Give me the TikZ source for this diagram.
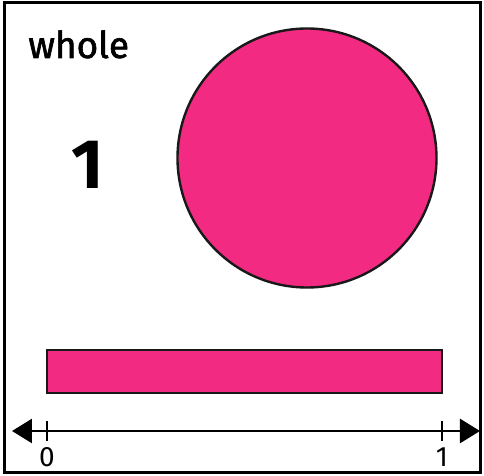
\documentclass[tikz,border=0pt]{standalone}
\usepackage{fontspec}
\setmainfont{Fira Sans}
\newfontfamily\medfont{Fira Sans}[FakeBold=1.6]
\usetikzlibrary{arrows.meta,positioning}
\definecolor{wholePink}{RGB}{242,42,130}
\tikzset{
  frameln/.style={line width=1.5pt},
  shapefill/.style={fill=wholePink, draw=black!90, line width=1.2pt, inner sep=0pt},
  numln/.style={{Triangle[length=10pt,width=12pt]}-{Triangle[length=10pt,width=12pt]}, line width=1.3pt},
  tickln/.style={line width=1pt},
  ticklbl/.style={inner sep=1pt, font=\fontsize{14}{16}\selectfont},
}
\begin{document}
\begin{tikzpicture}[x=0.5pt,y=-0.5pt]
  \useasboundingbox (0,0) rectangle (484,476);
  % outer frame
  \draw[frameln] (5,3) rectangle (481,473);
  % title and the number one
  \node[font=\fontsize{18.5}{22}\medfont, anchor=base west, inner sep=0pt] (title) at (28,58) {whole};
  \node[font=\fontsize{35}{40}\selectfont\bfseries] (one) at (88,165) {1};
  % the whole as a circle and as a bar
  \node[circle, shapefill, minimum size=129.5pt] (disc) at (307,158) {};
  \node[rectangle, shapefill, minimum width=197.5pt, minimum height=21.5pt] (bar) at (244.5,371.5) {};
  % number line from 0 to 1
  \coordinate (lend) at (12,431);
  \coordinate (rend) at (480,431);
  \draw[numln] (lend) -- (rend);
  \coordinate (t0) at (47,431);
  \coordinate (t1) at (442,431);
  \draw[tickln] ([yshift=5pt]t0) -- ([yshift=-5pt]t0) coordinate (t0b);
  \draw[tickln] ([yshift=5pt]t1) -- ([yshift=-5pt]t1) coordinate (t1b);
  \node[ticklbl, below=2pt of t0b] (zero) {0};
  \node[ticklbl, below=2pt of t1b] (unit) {1};
\end{tikzpicture}
\end{document}
